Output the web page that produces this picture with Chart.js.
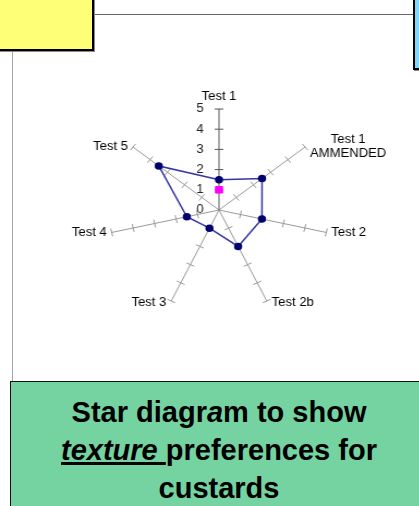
<!DOCTYPE html>
<html>
<head>
<meta charset="utf-8">
<script src="https://cdn.jsdelivr.net/npm/chart.js@4/dist/chart.umd.min.js"></script>
<style>
	html, body { margin: 0; padding: 0; width: 419px; height: 506px; overflow: hidden; background: #fff; font-family: "Liberation Sans", Arial, sans-serif; }
	.yellow { position: absolute; left: -4px; top: -4px; width: 94px; height: 51px; background: #ffff77; border: 2px solid #000; box-shadow: 1px 1px 0 #888; }
	.blue { position: absolute; left: 413px; top: -4px; width: 20px; height: 70px; background: #80d8ff; border: 2px solid #000; box-shadow: 1px 1px 0 #888; }
	.frame { position: absolute; left: 12px; top: 14px; width: 420px; height: 370px; border-left: 1.5px solid rgba(0,0,0,0.35); border-top: 1.5px solid rgba(0,0,0,0.6); }
	.green { position: absolute; left: 10px; top: 381px; width: 418px; height: 140px; background: #74d3a0; border: 1.5px solid #111; box-sizing: border-box; text-align: center; font-weight: bold; font-size: 29px; line-height: 38px; padding-top: 11px; color: #000; }
	.green u { text-decoration-thickness: 3px; }
	#wrap { position: absolute; left: 29px; top: 79px; width: 380px; height: 262px; transform: scaleX(1.09); transform-origin: 190px 131px; }
</style>
</head>
<body>
<div class="frame"></div>
<div class="yellow"></div>
<div class="blue"></div>
<div id="wrap"><canvas id="star"></canvas></div>
<div class="green">Star diagr<i>a</i>m to show<br><u><i>texture </i></u>preferences for<br>custards</div>
<script>
var axisLabels = ["Test 1", ["Test 1", "AMMENDED"], "Test 2", "Test 2b", "Test 3", "Test 4", "Test 5"];
var scores = [1.5, 2.5, 2, 2, 1, 1.5, 3.5];
var markerScores = [1, null, null, null, null, null, null];
var tickValues = [0, 1, 2, 3, 4, 5];

var FONT = "12px 'Liberation Sans', Arial, sans-serif";

// tick crosses on every spoke, numbers on the first one, names at the spoke ends
var spokeTicks = {
	id: "spokeTicks",
	beforeDatasetsDraw: function (chart) {
		var r = chart.scales.r;
		var ctx = chart.ctx;
		var top = tickValues[tickValues.length - 1];
		ctx.save();
		ctx.lineWidth = 1;
		for (var i = 0; i < axisLabels.length; i++) {
			var a = r.getIndexAngle(i) - Math.PI / 2;
			var px = -Math.sin(a), py = Math.cos(a);
			ctx.strokeStyle = i === 0 ? "#555" : "#999";
			tickValues.forEach(function (v) {
				if (v === 0) return;
				var p = r.getPointPositionForValue(i, v);
				ctx.beginPath();
				ctx.moveTo(p.x - px * 4, p.y - py * 4);
				ctx.lineTo(p.x + px * 4, p.y + py * 4);
				ctx.stroke();
			});
		}

		ctx.font = FONT;
		ctx.fillStyle = "#222";
		ctx.textAlign = "right";
		ctx.textBaseline = "middle";
		tickValues.forEach(function (v) {
			var p = r.getPointPositionForValue(0, v);
			ctx.fillText(String(v), p.x - 14, p.y);
		});

		ctx.fillStyle = "#000";
		ctx.textAlign = "center";
		for (var j = 0; j < axisLabels.length; j++) {
			var end = r.getPointPositionForValue(j, top);
			var lines = [].concat(axisLabels[j]);
			var w = Math.max.apply(null, lines.map(function (s) { return ctx.measureText(s).width; }));
			var dx = end.x - r.xCenter;
			var cx, cy;
			if (Math.abs(dx) < 1) {
				cx = end.x;
				cy = end.y - 12.5 - (lines.length - 1) * 14;
			} else {
				cx = dx > 0 ? end.x + 4.5 + w / 2 : end.x - 4.5 - w / 2;
				cy = end.y - (lines.length - 1) * 7 + (end.y - r.yCenter > 50 ? 2 : 0);
			}
			lines.forEach(function (s, k) { ctx.fillText(s, cx, cy + k * 14); });
		}
		ctx.restore();
	}
};

new Chart(document.getElementById("star"), {
	type: "radar",
	data: {
		labels: axisLabels,
		datasets: [{
			data: scores,
			borderColor: "#3535a5",
			borderWidth: 1.5,
			backgroundColor: "transparent",
			fill: false,
			pointBackgroundColor: "#000070",
			pointBorderColor: "#000070",
			pointRadius: 3
		},
		{
			data: markerScores,
			showLine: false,
			pointStyle: "rect",
			pointRadius: 4.6,
			pointBackgroundColor: "#ff00ff",
			pointBorderColor: "#ff00ff"
		}]
	},
	options: {
		responsive: true,
		maintainAspectRatio: false,
		animation: false,
		layout: { padding: { top: 30, bottom: 30 } },
		plugins: { legend: { display: false }, tooltip: { enabled: false } },
		scales: {
			r: {
				min: 0,
				max: 5,
				ticks: { display: false, stepSize: 1 },
				grid: { display: false },
				angleLines: {
					color: function (c) { return c.index === 0 ? "#555" : "#999"; },
					lineWidth: 1
				},
				pointLabels: { display: false }
			}
		}
	},
	plugins: [spokeTicks]
});
</script>
</body>
</html>
